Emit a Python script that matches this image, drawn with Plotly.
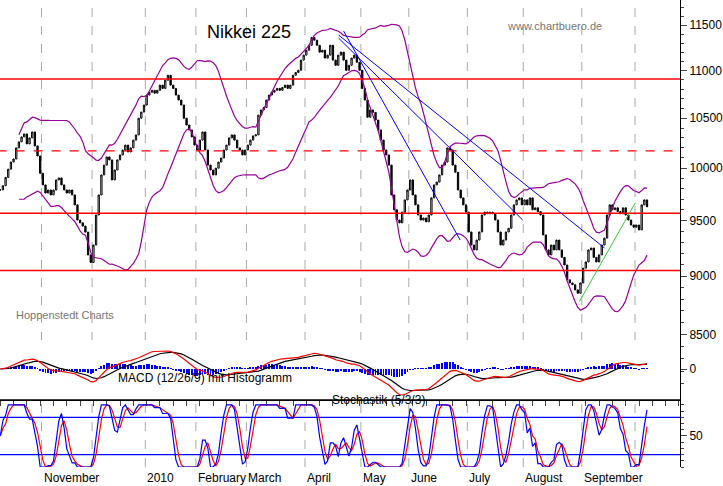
import numpy as np
import pandas as pd
import plotly.graph_objects as go

# daily closes, one list per month (Oct 2009 .. Oct 2010)
oct09 = [9790, 9830, 9910, 9990, 10060, 10090, 10200, 10260, 10310, 10340, 10240, 10300, 10360, 10220, 10120, 9950]
nov09 = [9838, 9760, 9789, 9742, 9789, 9886, 9905, 9838, 9789, 9760, 9789, 9742, 9648, 9506, 9480, 9450, 9395, 9188, 9120]
dec09 = [9277, 9553, 9742, 9934, 10030, 10110, 10081, 9886, 9982, 10081, 10130, 10179, 10228, 10160, 10200, 10278, 10330, 10500, 10563, 10636]
jan10 = [10740, 10770, 10790, 10760, 10790, 10845, 10810, 10897, 10950, 10845, 10810, 10740, 10688, 10636, 10500, 10430, 10380, 10310, 10228]
feb10 = [10179, 10278, 10360, 10179, 10030, 9982, 9934, 10000, 10060, 10100, 10179, 10228, 10300, 10330, 10278, 10200, 10179, 10130, 10179]
mar10 = [10228, 10278, 10320, 10330, 10532, 10585, 10610, 10688, 10740, 10770, 10790, 10810, 10790, 10820, 10845, 10810, 10845, 10950, 10980, 11003, 11113, 11167]
apr10 = [11221, 11275, 11360, 11332, 11275, 11200, 11221, 11135, 11167, 11275, 11113, 11057, 11167, 11200, 11113, 11003, 11057, 11135, 11167, 11090, 11003]
may10 = [10810, 10688, 10510, 10585, 10560, 10481, 10380, 10278, 10179, 10130, 10030, 9742, 9602, 9506, 9480, 9580, 9695, 9789]
jun10 = [9886, 9742, 9648, 9553, 9506, 9525, 9490, 9553, 9714, 9838, 9865, 9934, 10030, 10060, 10200, 10179, 10030, 9960, 9789, 9714, 9648, 9580]
jul10 = [9396, 9277, 9233, 9322, 9396, 9553, 9580, 9565, 9580, 9565, 9506, 9396, 9277, 9322, 9396, 9430, 9553, 9648, 9695, 9714, 9648]
aug10 = [9695, 9648, 9714, 9602, 9620, 9585, 9553, 9369, 9233, 9188, 9277, 9233, 9322, 9233, 9166, 9098, 8967, 8940, 8924, 8879, 8850, 8940]
sep10 = [9070, 9125, 9233, 9250, 9166, 9125, 9188, 9277, 9340, 9553, 9648, 9602, 9620, 9585, 9565, 9620, 9553, 9506, 9460, 9440]
oct10 = [9460, 9415, 9648, 9695, 9630]

months = [oct09, nov09, dec09, jan10, feb10, mar10, apr10, may10, jun10, jul10, aug10, sep10, oct10]
month_labels = ["", "November", "", "2010", "February", "March", "April", "May", "June", "July", "August", "September", ""]

hlines_red = [10910, 9570, 9050]
hline_dotted = 10170
# trend lines: (index0, price0, index1, price1)
blue_lines = [(129.0, 11434, 172.8, 9322), (127.1, 11389, 227.0, 9251), (127.1, 11355, 196.3, 9506)]
green_line = (217.6, 8778, 238.6, 9667)
price_ticks = [8500, 9000, 9500, 10000, 10500, 11000, 11500]

close = pd.Series([c for m in months for c in m], dtype=float)
n = len(close)
idx = np.arange(n)
opn = close.shift(1).fillna(close.iloc[0])
high = np.maximum(opn, close)
low = np.minimum(opn, close)

mid = close.rolling(20, min_periods=8).mean()
sd = close.rolling(20, min_periods=8).std(ddof=0)
bb_up, bb_lo = mid + 2 * sd, mid - 2 * sd

macd = close.ewm(span=12, adjust=False).mean() - close.ewm(span=26, adjust=False).mean()
signal = macd.ewm(span=9, adjust=False).mean()
hist = macd - signal

hh = pd.Series(high).rolling(5, min_periods=1).max()
ll = pd.Series(low).rolling(5, min_periods=1).min()
rawk = 100 * (close - ll) / (hh - ll).replace(0, np.nan)
k = rawk.fillna(50).rolling(3, min_periods=1).mean()
d = k.rolling(3, min_periods=1).mean()

starts = np.cumsum([0] + [len(m) for m in months])[:-1]

fig = go.Figure()
fig.add_trace(go.Candlestick(x=idx, open=opn, high=high, low=low, close=close,
                             increasing=dict(line=dict(color="black", width=1), fillcolor="white"),
                             decreasing=dict(line=dict(color="black", width=1), fillcolor="black"),
                             whiskerwidth=0, yaxis="y"))
for band in (bb_up, bb_lo):
    fig.add_trace(go.Scatter(x=idx, y=band, mode="lines", line=dict(color="#990099", width=1.2), yaxis="y"))
for h in hlines_red:
    fig.add_trace(go.Scatter(x=[-1, 256], y=[h, h], mode="lines", line=dict(color="red", width=1.5), yaxis="y"))
fig.add_trace(go.Scatter(x=[-1, 256], y=[hline_dotted] * 2, mode="lines",
                         line=dict(color="red", width=1.2, dash="dash"), yaxis="y"))
for x0, y0, x1, y1 in blue_lines:
    fig.add_trace(go.Scatter(x=[x0, x1], y=[y0, y1], mode="lines", line=dict(color="blue", width=1), yaxis="y"))
fig.add_trace(go.Scatter(x=[green_line[0], green_line[2]], y=[green_line[1], green_line[3]], mode="lines",
                         line=dict(color="#33cc33", width=1), yaxis="y"))

fig.add_trace(go.Bar(x=idx, y=hist, marker=dict(color="blue", line=dict(width=0)), width=0.35, yaxis="y2"))
fig.add_trace(go.Scatter(x=idx, y=signal, mode="lines", line=dict(color="black", width=1.2), yaxis="y2"))
fig.add_trace(go.Scatter(x=idx, y=macd, mode="lines", line=dict(color="red", width=1.2), yaxis="y2"))

fig.add_trace(go.Scatter(x=[-1, 256], y=[80, 80], mode="lines", line=dict(color="blue", width=1.2), yaxis="y3"))
fig.add_trace(go.Scatter(x=[-1, 256], y=[20, 20], mode="lines", line=dict(color="blue", width=1.2), yaxis="y3"))
fig.add_trace(go.Scatter(x=idx, y=d, mode="lines", line=dict(color="red", width=1.2), yaxis="y3"))
fig.add_trace(go.Scatter(x=idx, y=k, mode="lines", line=dict(color="blue", width=1.2), yaxis="y3"))

H = 467.0
top_dom = [67 / H, 1]
m = abs(macd).max() / 26

shapes = []
for s in starts[1:]:
    shapes.append(dict(type="line", xref="x", yref="paper", x0=s - 0.5, x1=s - 0.5, y0=0, y1=1,
                       line=dict(color="#aaaaaa", width=1, dash="dash"), layer="below"))
shapes.append(dict(type="line", xref="paper", yref="paper", x0=0, x1=1, y0=67 / H, y1=67 / H,
                   line=dict(color="black", width=1.5)))

ann = [dict(x=s - 0.5, y=-0.005, xref="x", yref="paper", text=lab, showarrow=False, xanchor="left",
            yanchor="top", font=dict(size=12, color="black")) for s, lab in zip(starts, month_labels) if lab]
ann += [
    dict(x=250 / 683, y=1 - 20 / H, xref="paper", yref="paper", text="Nikkei 225", showarrow=False,
         font=dict(size=18, color="black")),
    dict(x=607 / 683, y=1 - 18 / H, xref="paper", yref="paper", text="www.chartbuero.de", showarrow=False,
         font=dict(size=11, color="#777777")),
    dict(x=14 / 683, y=1 - 323 / H, xref="paper", yref="paper", text="Hoppenstedt Charts", showarrow=False,
         xanchor="left", font=dict(size=11, color="#777777")),
    dict(x=117 / 683, y=1 - 387 / H, xref="paper", yref="paper", text="MACD (12/26/9) mit Histogramm",
         showarrow=False, xanchor="left", font=dict(size=12, color="black")),
    dict(x=380 / 683, y=1 - 409 / H, xref="paper", yref="paper", text="Stochastik (5/3/3)", showarrow=False,
         font=dict(size=12, color="black")),
]

fig.update_layout(
    width=723, height=486, margin=dict(l=0, r=40, t=0, b=19),
    paper_bgcolor="white", plot_bgcolor="white", showlegend=False,
    font=dict(family="Liberation Sans, Arial, sans-serif", size=12, color="black"),
    bargap=0,
    xaxis=dict(range=[-0.1, 255.4], showgrid=False, zeroline=False, rangeslider=dict(visible=False),
               showline=True, linecolor="black", ticks="outside", ticklen=5, tickvals=list(range(0, 256, 5)),
               showticklabels=False),
    yaxis=dict(type="log", domain=top_dom, range=[np.log10(7974), np.log10(11785)], side="right",
               tickvals=price_ticks, ticktext=[str(t) for t in price_ticks], ticks="outside", ticklen=6,
               showgrid=False, zeroline=False, showline=True, linecolor="black",
               minor=dict(tickvals=list(range(8100, 11800, 100)), ticks="outside", ticklen=3)),
    yaxis2=dict(domain=[67 / H, 127 / H], range=[-31 * m, 29 * m], side="right", anchor="x",
                tickvals=[0], ticks="outside", ticklen=6, showgrid=False, zeroline=False),
    yaxis3=dict(domain=[0, 67 / H], range=[0, 108], side="right", anchor="x", tickvals=[50],
                ticks="outside", ticklen=6, showgrid=False, zeroline=False, showline=True, linecolor="black",
                minor=dict(tickvals=[0, 10, 20, 30, 40, 60, 70, 80, 90, 100], ticks="outside", ticklen=3)),
    shapes=shapes, annotations=ann,
)

fig.write_html("out.html", config={"displayModeBar": False},
               post_script="document.body.style.margin='0';")
